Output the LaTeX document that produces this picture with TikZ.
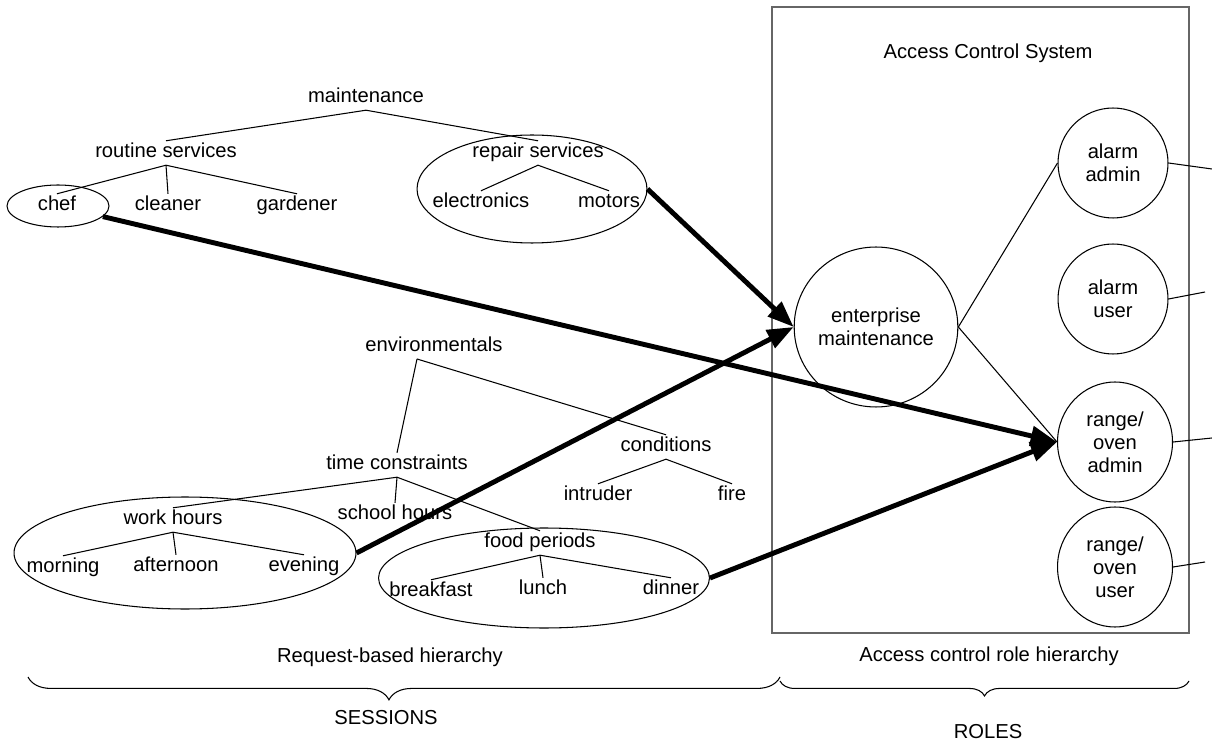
\documentclass[tikz,border=0pt]{standalone}
\usepackage{fontspec}
\setmainfont{Liberation Sans}
\usetikzlibrary{shapes.geometric, arrows.meta, decorations.pathreplacing}

\begin{document}
\begin{tikzpicture}[x=0.02cm, y=-0.02cm,
    every node/.style={font=\fontsize{11.5}{13}\selectfont},
    term/.style={inner sep=1.5pt, text height=8pt, text depth=2.5pt},
    ring/.style={ellipse, draw, line width=0.6pt, inner sep=0pt},
    role/.style={ellipse, draw, line width=0.6pt, inner sep=0pt, align=center},
    branch/.style={line width=0.6pt},
    grant/.style={line width=2.8pt, -{Triangle[length=15pt, width=11pt]}}]
    \useasboundingbox (0,0) rectangle (1212,742);

        % Access control system
        \draw[draw=black!60, line width=0.7pt] (772,7) rectangle (1189,633);
        \node (acstitle) at (988,53) {Access Control System};
        \node (enterprise) [role, minimum size=3.2cm] at (876,327) {enterprise\\maintenance};
        \node (alarmadmin) [role, minimum size=2.2cm] at (1113,163) {alarm\\admin};
        \node (alarmuser) [role, minimum size=2.2cm] at (1113,299) {alarm\\user};
        \node (rangeadmin) [role, minimum width=2.3cm, minimum height=2.4cm] at (1115,442) {range/\\oven\\admin};
        \node (rangeuser) [role, minimum width=2.3cm, minimum height=2.4cm] at (1115,567) {range/\\oven\\user};
        \coordinate (alarmadminout) at (1212,169);
        \coordinate (alarmuserout) at (1205,292);
        \coordinate (rangeadminout) at (1212,438);
        \coordinate (rangeuserout) at (1205,562);

        % Maintenance tree
        \node (maint) [term] at (366,98) {maintenance};
        \node (routine) [term] at (166,153) {routine services};
        \node (repair) [term] at (538,153) {repair services};
        \node (chef) [term] at (57,206) {chef};
        \node (cleaner) [term] at (168,206) {cleaner};
        \node (gardener) [term] at (297,206) {gardener};
        \node (electronics) [term] at (481,203) {electronics};
        \node (motors) [term] at (609,203) {motors};
        \node (chefring) [ring, minimum width=2.04cm, minimum height=0.84cm] at (58,206) {};
        \node (repairring) [ring, minimum width=4.6cm, minimum height=2.16cm] at (532,189) {};

        % Environmentals tree
        \node (env) [term] at (434,347) {environmentals};
        \coordinate (envj) at (417,359);
        \node (cond) [term] at (666,447) {conditions};
        \node (intruder) [term] at (598,496) {intruder};
        \node (fire) [term] at (732,496) {fire};
        \node (timec) [term] at (397,465) {time constraints};
        \node (work) [term] at (173,520) {work hours};
        \node (school) [term] at (395,515) {school hours};
        \node (food) [term] at (540,543) {food periods};
        \node (morning) [term] at (63,568) {morning};
        \node (afternoon) [term] at (176,567) {afternoon};
        \node (evening) [term] at (304,567) {evening};
        \node (breakfast) [term] at (431,592) {breakfast};
        \node (lunch) [term] at (543,590) {lunch};
        \node (dinner) [term] at (671,590) {dinner};
        \node (workring) [ring, minimum width=6.84cm, minimum height=2.24cm] at (185,553) {};
        \node (foodring) [ring, minimum width=6.62cm, minimum height=2.0cm] at (544,578) {};

        % Tree branches
        \draw[branch] (maint.south) -- (routine.north);
        \draw[branch] (maint.south) -- (repair.north);
        \draw[branch] (routine.south) -- (chef.north);
        \draw[branch] (routine.south) -- (cleaner.north);
        \draw[branch] (routine.south) -- (gardener.north);
        \draw[branch] (repair.south) -- (electronics.north);
        \draw[branch] (repair.south) -- (motors.north);
        \draw[branch] (envj) -- (timec.north);
        \draw[branch] (envj) -- (cond.north);
        \draw[branch] (cond.south) -- (intruder.north);
        \draw[branch] (cond.south) -- (fire.north);
        \draw[branch] (timec.south) -- (work.north);
        \draw[branch] (timec.south) -- (school.north);
        \draw[branch] (timec.south) -- (food.north);
        \draw[branch] (work.south) -- (morning.north);
        \draw[branch] (work.south) -- (afternoon.north);
        \draw[branch] (work.south) -- (evening.north);
        \draw[branch] (food.south) -- (breakfast.north);
        \draw[branch] (food.south) -- (lunch.north);
        \draw[branch] (food.south) -- (dinner.north);

        % Role links
        \draw[branch] (enterprise.east) -- (alarmadmin.west);
        \draw[branch] (enterprise.east) -- (rangeadmin.west);
        \draw[branch] (alarmadmin.east) -- (alarmadminout);
        \draw[branch] (alarmuser.east) -- (alarmuserout);
        \draw[branch] (rangeadmin.east) -- (rangeadminout);
        \draw[branch] (rangeuser.east) -- (rangeuserout);

        % Session to role arrows
        \draw[grant] (chefring) -- (rangeadmin.west);
        \draw[grant] (repairring.east) -- (enterprise.west);
        \draw[grant] (workring.east) -- (enterprise.west);
        \draw[grant] (foodring.east) -- (rangeadmin.west);

        % Braces and captions
        \node (reqlabel) at (390,657) {Request-based hierarchy};
        \node (rolelabel) at (989,656) {Access control role hierarchy};
        \coordinate (sessleft) at (28,677);
        \coordinate (sessright) at (780,677);
        \coordinate (roleleft) at (780,681);
        \coordinate (roleright) at (1189,681);
        \draw[branch, decorate, decoration={brace, mirror, amplitude=13pt, aspect=0.48}] (sessleft) -- (sessright);
        \draw[branch, decorate, decoration={brace, mirror, amplitude=8.5pt}] (roleleft) -- (roleright);
        \node (sessions) at (386,718) {SESSIONS};
        \node (roles) at (988,732) {ROLES};

    \end{tikzpicture}
\end{document}
